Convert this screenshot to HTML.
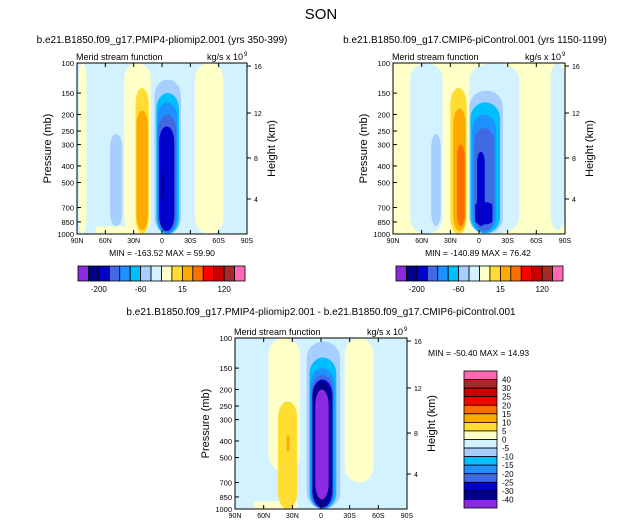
<!DOCTYPE html>
<html><head><meta charset="utf-8"><style>
body{margin:0;background:#fff;}
svg{display:block;font-family:"Liberation Sans",sans-serif;}
</style></head><body>
<svg id="fig" width="643" height="530" viewBox="0 0 643 530">
<text x="321" y="19" font-size="15" text-anchor="middle">SON</text>
</svg>
<script>
const colors = ["#8A2BE2","#00008B","#0000CD","#4169E1","#1E90FF","#00BFFF","#A6CFFF","#D2F2FF","#FFFFC8","#FFDD33","#FFAA00","#FF6E00","#FF0000","#CC0000","#A52A2A","#FF69B4"];
const pTicks = [100,150,200,250,300,400,500,700,850,1000];
const latTicks = [90,60,30,0,-30,-60,-90];
const latLabels = ["90N","60N","30N","0","30S","60S","90S"];
const kmTicks = [4,8,12,16];
const kmPos = [199,158,113,66];
const topBarLabels = ["-200","-60","15","120"];
const topBarLabelIdx = [1,5,9,13];
const diffBarLabels = ["40","30","25","20","15","10","5","0","-5","-10","-15","-20","-25","-30","-40"];
// blobs: [latNorthEdge, latSouthEdge, pTop, pBottom, colorIndex]
const bg1 = 7;
const blobs1 = [[88,80,100,1000,8],[40,12,100,1000,8],[70,20,900,1000,8],[-35,-65,100,1000,8],
 [55,42,260,900,6],[28,14,140,1000,9],[27,15,190,950,10],
 [8,-20,125,1000,6],[6,-18,150,1000,5],[5,-16,170,990,4],[4,-15,200,980,3],[3,-13,235,960,2],[1,-2,450,620,1]];
const bg2 = 8;
const blobs2 = [[72,38,100,1000,7],[10,-42,100,1000,7],[-75,-90,100,950,7],
 [50,40,260,900,6],[30,13,140,1000,9],[27,14,185,960,10],[23,15,300,900,11],
 [10,-25,145,1000,6],[9,-22,170,990,5],[7,-18,200,980,4],[5,-16,240,960,3],[2,-6,330,900,2],[4,-14,650,880,2]];
const bg3 = 7;
const blobs3 = [[55,22,100,600,8],[-25,-55,100,700,8],[70,25,900,1000,8],
 [45,25,235,1000,9],[36,33,370,460,10],
 [15,-20,105,1000,6],[12,-16,130,1000,5],[11,-14,150,1000,4],[10,-13,165,990,3],[9,-12,175,980,2],[8,-10,180,970,1],[6,-8,200,880,0]];

const svg = document.getElementById('fig');
const NS = "http://www.w3.org/2000/svg";
function mk(tag, attrs, parent){const e=document.createElementNS(NS,tag);for(const k in attrs)e.setAttribute(k,attrs[k]);(parent||svg).appendChild(e);return e;}
function txt(x,y,s,size,anchor,parent){const t=mk('text',{x:x,y:y,'font-size':size,'text-anchor':anchor||'start'},parent);t.textContent=s;return t;}

function panel(x0,y0,w,h,bg,blobs,name,title,titleX){
  const g=mk('g',{});
  
  
  const X=lat=>x0+(90-lat)/180*w;
  const Y=p=>y0+(Math.log(p)-Math.log(100))/(Math.log(1000)-Math.log(100))*h;
  const clipId='c'+name;
  const cp=mk('clipPath',{id:clipId},g);mk('rect',{x:x0,y:y0,width:w,height:h},cp);
  mk('rect',{x:x0,y:y0,width:w,height:h,fill:colors[bg]},g);
  const cg=mk('g',{'clip-path':'url(#'+clipId+')'},g);
  blobs.forEach(b=>{
    const bw=X(b[1])-X(b[0]), bh=Y(b[3])-Y(b[2]);
    const r=mk('rect',{x:X(b[0]),y:Y(b[2]),width:bw,height:bh,rx:bw/2,ry:Math.min(bh*0.15,16),fill:colors[b[4]]},cg);
    
    
  });
  mk('rect',{x:x0,y:y0,width:w,height:h,fill:'none',stroke:'#000','stroke-width':1},g);
  pTicks.forEach(p=>{const y=Y(p);mk('line',{x1:x0,x2:x0+4,y1:y,y2:y,stroke:'#000'},g);
    const t=txt(x0-3,y+3,String(p),7.5,'end',g);});
  latTicks.forEach((l,i)=>{const x=X(l);mk('line',{x1:x,x2:x,y1:y0+h,y2:y0+h-4,stroke:'#000'},g);mk('line',{x1:x,x2:x,y1:y0,y2:y0+4,stroke:'#000'},g);
    const t=txt(x,y0+h+9,latLabels[i],7,'middle',g);});
  kmTicks.forEach((k,i)=>{const y=y0+(kmPos[i]-63);mk('line',{x1:x0+w,x2:x0+w+4,y1:y,y2:y,stroke:'#000'},g);
    const t=txt(x0+w+7,y+3,String(k),7,'start',g);});
  const yl=txt(0,0,'Pressure (mb)',11,'middle',g);yl.setAttribute('transform','translate('+(x0-26)+','+(y0+h/2)+') rotate(-90)');
  
  const hl=txt(0,0,'Height (km)',11,'middle',g);hl.setAttribute('transform','translate('+(x0+w+28)+','+(y0+h/2)+') rotate(-90)');
  
  const lt=txt(x0-1,y0-3,'Merid stream function',9,'start',g);
  const rt=txt(x0+w-4,y0-3,'kg/s x 10',9,'end',g);
  txt(x0+w-3,y0-7,'9',6,'start',g);
  if(title){const tt=txt(titleX,y0-20,title,10,'middle',g);}
}
function hbar(x0,y0,w,h,name){
  const g=mk('g',{});
  const bw=w/colors.length;
  colors.forEach((c,i)=>{const r=mk('rect',{x:x0+i*bw,y:y0,width:bw,height:h,fill:c,stroke:'#000','stroke-width':0.8},g);
    });
  topBarLabels.forEach((s,i)=>{const t=txt(x0+topBarLabelIdx[i]*bw+bw,y0+h+11,s,8,'middle',g);});
}
panel(77,63,170,171,bg1,blobs1,'panel-pliomip2','b.e21.B1850.f09_g17.PMIP4-pliomip2.001 (yrs 350-399)',162);
panel(393,63,172,171,bg2,blobs2,'panel-picontrol','b.e21.B1850.f09_g17.CMIP6-piControl.001 (yrs 1150-1199)',475);
panel(235,338,172,171,bg3,blobs3,'panel-difference',null,0);
let t;
t=txt(162,256,'MIN = -163.52   MAX =   59.90',8.5,'middle');
t=txt(478,256,'MIN = -140.89   MAX =   76.42',8.5,'middle');
t=txt(321,315,'b.e21.B1850.f09_g17.PMIP4-pliomip2.001 - b.e21.B1850.f09_g17.CMIP6-piControl.001',10,'middle');
t=txt(428,356,'MIN = -50.40   MAX =  14.93',8.5,'start');
hbar(78,266,167,15,'colorbar-left');
hbar(396,266,167,15,'colorbar-right');
(function(){
  const g=mk('g',{});
  const x0=464,y0=371,w=33,h=137,n=colors.length,bh=h/n;
  for(let i=0;i<n;i++){const r=mk('rect',{x:x0,y:y0+i*bh,width:w,height:bh,fill:colors[n-1-i],stroke:'#000','stroke-width':0.8},g);
    }
  diffBarLabels.forEach((s,i)=>{const t=txt(x0+w+5,y0+(i+1)*bh+3,s,8,'start',g);});
})();
</script>
</body></html>
